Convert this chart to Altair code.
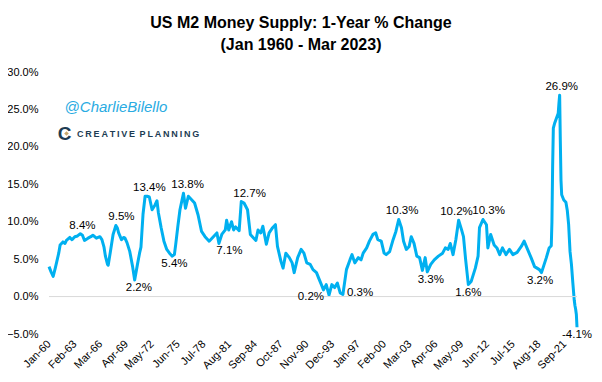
import altair as alt
import pandas as pd

# ---- series (month, 1-year % change) ----
months = [
    "1960-01","1960-04","1960-07","1960-10","1960-12","1961-03","1961-05","1961-09","1961-12","1962-02",
    "1962-07","1962-10","1963-02","1963-06","1963-10","1964-01","1964-04","1964-09","1965-01","1965-04",
    "1965-09","1966-02","1966-05","1966-08","1966-10","1967-01","1967-02","1967-05","1967-09","1968-01",
    "1968-03","1968-05","1968-09","1968-12","1969-02","1969-05","1969-09","1970-01","1970-04","1970-08",
    "1970-11","1971-01","1971-04","1971-07","1971-10","1972-01","1972-05","1972-09","1972-12","1973-02",
    "1973-06","1973-10","1974-02","1974-06","1974-10","1975-01","1975-03","1975-06","1975-09","1976-02",
    "1976-05","1976-09","1977-02","1977-06","1977-11","1978-04","1978-09","1979-03","1979-09","1980-02",
    "1980-05","1980-09","1981-02","1981-04","1981-07","1981-11","1982-02","1982-05","1982-10","1983-01",
    "1983-05","1983-10","1984-02","1984-07","1984-10","1985-01","1985-05","1985-08","1986-01","1986-05",
    "1986-10","1987-02","1987-05","1987-10","1988-01","1988-05","1988-10","1989-02","1989-05","1989-10",
    "1990-03","1990-07","1990-11","1991-04","1991-08","1992-01","1992-04","1992-08","1992-11","1993-03",
    "1993-07","1993-11","1994-03","1994-07","1994-11","1995-03","1995-08","1996-01","1996-04","1996-08",
    "1997-01","1997-05","1997-08","1998-01","1998-05","1998-10","1999-02","1999-05","1999-10","2000-02",
    "2000-05","2000-10","2001-03","2001-07","2001-11","2002-03","2002-06","2002-10","2003-02","2003-05",
    "2003-09","2004-01","2004-05","2004-09","2005-01","2005-04","2005-09","2006-02","2006-08","2007-02",
    "2007-06","2007-10","2008-01","2008-05","2008-09","2009-01","2009-05","2009-08","2009-11","2010-03",
    "2010-07","2011-01","2011-05","2011-07","2011-12","2012-05","2012-07","2012-11","2013-04","2013-08",
    "2013-12","2014-04","2014-09","2015-02","2015-07","2016-01","2016-07","2016-11","2017-04","2017-09",
    "2018-02","2018-09","2018-12","2019-07","2019-11","2020-02","2020-03","2020-04","2020-05","2020-07",
    "2020-12","2021-01","2021-02","2021-03","2021-04","2021-05","2021-08","2021-11","2022-01","2022-03",
    "2022-05","2022-07","2022-09","2022-11","2022-12","2023-01","2023-02","2023-03",
]
pct_change = [
    4.0, 3.3, 2.7, 3.8, 4.6, 5.8, 6.9, 7.3, 7.1, 7.5,
    7.9, 7.6, 8.0, 8.1, 8.4, 8.2, 7.5, 7.8, 8.0, 8.2,
    7.8, 8.0, 7.6, 6.6, 5.4, 4.3, 4.2, 5.9, 8.3, 9.5,
    9.2, 8.5, 7.6, 7.9, 7.8, 7.2, 6.0, 4.0, 2.2, 4.3,
    5.8, 6.6, 11.0, 13.4, 13.4, 13.3, 11.6, 12.2, 12.8, 11.2,
    9.2, 7.4, 6.3, 5.8, 5.4, 5.6, 7.0, 9.4, 11.6, 13.8,
    11.8, 13.4, 12.9, 12.5, 10.9, 8.7, 8.0, 7.4, 8.0, 8.5,
    7.1, 8.3, 8.9, 10.2, 8.9, 10.0, 8.9, 9.3, 8.8, 12.7,
    12.5, 11.6, 8.3, 7.8, 7.5, 8.9, 8.5, 9.4, 7.0, 8.5,
    9.2, 9.6, 6.7, 4.7, 3.8, 5.8, 5.2, 4.5, 3.2, 5.2,
    6.3, 5.8, 4.5, 4.3, 3.6, 3.2, 2.5, 1.6, 0.9, 1.6,
    0.2, 1.6, 1.2, 1.8, 0.5, 0.3, 3.6, 4.9, 5.6, 4.5,
    5.2, 4.9, 5.8, 6.5, 7.4, 8.3, 8.5, 7.6, 7.4, 5.8,
    5.6, 6.0, 7.6, 8.7, 10.3, 9.2, 7.4, 6.3, 6.7, 8.0,
    7.1, 5.4, 5.2, 3.5, 5.2, 3.3, 4.3, 4.9, 5.4, 5.8,
    6.5, 6.3, 7.1, 5.6, 7.6, 10.2, 9.0, 8.0, 5.0, 1.6,
    2.0, 3.8, 5.4, 9.2, 10.3, 9.6, 6.5, 8.3, 6.9, 6.5,
    5.6, 6.5, 5.6, 6.3, 5.6, 5.9, 6.7, 7.4, 6.3, 5.2,
    4.0, 3.6, 3.2, 5.2, 6.5, 6.8, 10.0, 17.5, 22.5, 23.2,
    24.5, 25.8, 26.9, 21.0, 15.5, 13.6, 12.9, 12.6, 11.5, 9.6,
    6.0, 4.3, 1.8, -0.5, -1.2, -1.7, -2.4, -4.1,
]

# ---- data labels ----
label_text = ["8.4%", "9.5%", "13.4%", "13.8%", "12.7%", "10.3%", "10.2%", "10.3%", "26.9%",
              "2.2%", "5.4%", "7.1%", "3.3%", "1.6%", "3.2%", "-4.1%", "0.2%", "0.3%"]
label_month = ["1964-01", "1968-09", "1972-01", "1976-08", "1984-01", "2002-04", "2008-10", "2012-08", "2021-05",
               "1970-10", "1975-01", "1981-08", "2005-09", "2010-03", "2018-10", "2023-03", "1993-07", "1995-03"]
label_value = [8.4, 9.5, 13.4, 13.8, 12.7, 10.3, 10.2, 10.3, 26.9,
               2.2, 5.4, 7.1, 3.3, 1.6, 3.2, -4.1, 0.2, 0.3]
label_side = ["above"] * 9 + ["below"] * 7 + ["left", "right"]

# ---- x-axis tick labels (Excel category axis, every 37 months) ----
tick_months = ["1960-01", "1963-02", "1966-03", "1969-04", "1972-05", "1975-06", "1978-07",
               "1981-08", "1984-09", "1987-10", "1990-11", "1993-12", "1997-01", "2000-02",
               "2003-03", "2006-04", "2009-05", "2012-06", "2015-07", "2018-08", "2021-09"]
y_ticks = [-5, 0, 5, 10, 15, 20, 25, 30]


def to_ms(m):
    return int(pd.Timestamp(m + "-01").value // 10**6)


df = pd.DataFrame({"date": [to_ms(m) for m in months], "value": pct_change})
labels = pd.DataFrame({"date": [to_ms(m) for m in label_month], "value": label_value,
                       "text": label_text, "side": label_side})
zero_df = pd.DataFrame({"value": [0]})

FONT = "Liberation Sans"
LINE = "#00B0F0"

x_scale = alt.Scale(type="utc", domain=[to_ms("1960-01"), to_ms("2023-03")])
y_scale = alt.Scale(domain=[-5, 30], nice=False, zero=False)

x_axis = alt.Axis(values=[to_ms(m) for m in tick_months],
                  labelExpr="utcFormat(datum.value, '%b-%y')",
                  labelAngle=-45, labelAlign="right", labelBaseline="middle",
                  labelPadding=8, ticks=False, domain=False, grid=False,
                  labelFont=FONT, labelFontSize=11, labelColor="#000000",
                  labelOverlap=False, labelBound=False, labelFlush=False)
y_axis = alt.Axis(values=y_ticks,
                  labelExpr="format(datum.value, '.1f') + '%'",
                  ticks=False, domain=False, grid=False, labelPadding=11,
                  labelOverlap=False, labelBound=False, labelFlush=False,
                  labelFont=FONT, labelFontSize=11, labelColor="#000000")

x_enc = alt.X("date:T", scale=x_scale, title=None, axis=x_axis)
y_enc = alt.Y("value:Q", scale=y_scale, title=None, axis=y_axis)

line = alt.Chart(df).mark_line(color=LINE, strokeWidth=3, strokeJoin="round").encode(
    x=x_enc, y=y_enc
)

zero_rule = alt.Chart(zero_df).mark_rule(color="#d9d9d9", strokeWidth=1).encode(y=y_enc)


def label_layer(side, **kw):
    return alt.Chart(labels).transform_filter(alt.datum.side == side).mark_text(
        font=FONT, fontSize=11.5, color="#000000", **kw
    ).encode(x=x_enc, y=y_enc, text="text:N")


lab_above = label_layer("above", dy=-8, align="center", baseline="middle")
lab_below = label_layer("below", dy=8, align="center", baseline="middle")
lab_left = label_layer("left", dx=-5, dy=2, align="right", baseline="middle")
lab_right = label_layer("right", dx=4, dy=-1, align="left", baseline="middle")


def note(text, x, y, **kw):
    return alt.Chart(pd.DataFrame({"t": [text]})).mark_text(**kw).encode(
        x=alt.value(x), y=alt.value(y), text="t:N"
    )


title1 = note("US M2 Money Supply: 1-Year % Change", 252, -49,
              font=FONT, fontSize=16, fontWeight="bold", color="#000000", align="center", baseline="middle")
title2 = note("(Jan 1960 - Mar 2023)", 252, -27,
              font=FONT, fontSize=16, fontWeight="bold", color="#000000", align="center", baseline="middle")
handle = note("@CharlieBilello", 67, 35,
              font=FONT, fontSize=15, fontStyle="italic", color="#29ABE2", align="center", baseline="middle")
logo_c = note("C", 15.5, 61.5,
              font=FONT, fontSize=19, fontWeight="bold", color="#1D3C53", align="center", baseline="middle")
logo_d = alt.Chart(pd.DataFrame({"t": [1]})).mark_point(
    shape="diamond", filled=True, color="#C9A96E", size=22, opacity=1
).encode(x=alt.value(17.5), y=alt.value(61.5))
TS = "\u2009"
logo_text = note(TS.join("CREATIVE") + "\u2002" + TS.join("PLANNING"), 28, 61.5,
                 font=FONT, fontSize=9, fontWeight="bold", color="#1D3C53", align="left", baseline="middle")

chart = alt.layer(
    line, zero_rule, lab_above, lab_below, lab_left, lab_right,
    title1, title2, handle, logo_c, logo_d, logo_text
).properties(
    width=528, height=262,
    padding={"left": 41, "top": 64, "right": 17, "bottom": 40},
    autosize=alt.AutoSizeParams(type="none"),
    background="#ffffff",
).configure_view(stroke=None).configure_axis(labelOverlap=False)

chart.save("out.html", embed_options={"renderer": "svg", "actions": False})
